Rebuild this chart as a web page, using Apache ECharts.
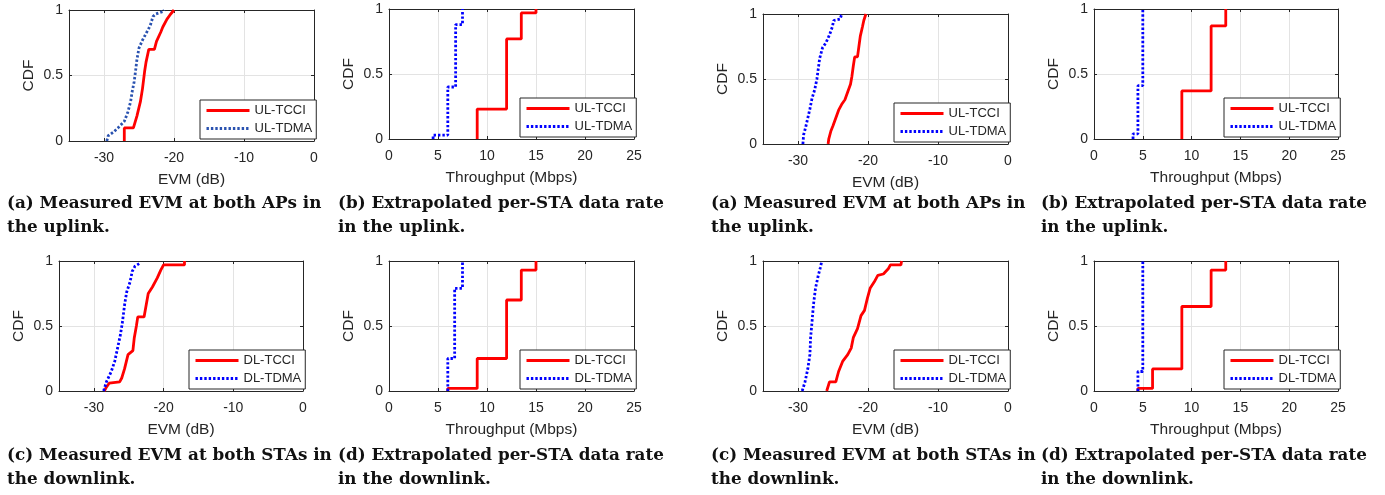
<!DOCTYPE html>
<html lang="en">

<head>
    <meta charset="UTF-8">
    <title>CDF of EVM and throughput</title>
</head>
<style>
    html, body { margin: 0; padding: 0; background: #fff; }
    #main { width: 1385px; height: 495px; }
</style>

<body>
    <div id="main"></div>
    <script src="https://cdn.jsdelivr.net/npm/echarts@6/dist/echarts.min.js"></script>

    <script>
        // EVM CDFs, [EVM dB, CDF]
        const ulEvmTcciA = [[-27.1, 0], [-27.1, 0.1], [-25.8, 0.1], [-25.3, 0.19], [-24.8, 0.3], [-24.5, 0.4], [-24.2, 0.53], [-24.0, 0.6], [-23.6, 0.7], [-22.8, 0.7], [-22.5, 0.76], [-21.9, 0.83], [-21.6, 0.87], [-21.0, 0.93], [-20.6, 0.96], [-20.0, 1]]
        const ulEvmTdmaA = [[-29.6, 0], [-29.4, 0.04], [-28.6, 0.07], [-28.0, 0.1], [-27.1, 0.15], [-26.6, 0.22], [-26.2, 0.3], [-26.0, 0.37], [-25.7, 0.45], [-25.5, 0.53], [-25.3, 0.62], [-25.0, 0.71], [-24.5, 0.77], [-24.0, 0.82], [-23.4, 0.88], [-23.0, 0.95], [-22.6, 0.97], [-21.5, 0.99], [-21.4, 1]]
        const dlEvmTcciA = [[-28.5, 0], [-28.2, 0.03], [-27.8, 0.06], [-26.3, 0.07], [-26.0, 0.1], [-25.6, 0.17], [-25.1, 0.28], [-24.4, 0.31], [-24.2, 0.41], [-23.9, 0.5], [-23.7, 0.57], [-22.8, 0.57], [-22.5, 0.66], [-22.2, 0.75], [-21.6, 0.8], [-20.9, 0.87], [-20.4, 0.93], [-20.0, 0.97], [-17.0, 0.97], [-17.0, 1]]
        const dlEvmTdmaA = [[-28.6, 0], [-28.2, 0.07], [-27.5, 0.15], [-27.0, 0.23], [-26.6, 0.33], [-26.2, 0.43], [-25.9, 0.53], [-25.6, 0.66], [-25.3, 0.76], [-24.8, 0.84], [-24.5, 0.92], [-24.1, 0.96], [-23.5, 0.98]]
        const ulEvmTcciB = [[-25.7, 0], [-25.6, 0.04], [-25.3, 0.1], [-25.0, 0.14], [-24.6, 0.2], [-24.2, 0.26], [-23.7, 0.31], [-23.3, 0.34], [-22.9, 0.4], [-22.5, 0.46], [-22.3, 0.52], [-22.1, 0.6], [-21.9, 0.67], [-21.5, 0.67], [-21.3, 0.75], [-21.1, 0.83], [-20.8, 0.9], [-20.6, 0.95], [-20.3, 1]]
        const ulEvmTdmaB = [[-29.3, 0], [-29.2, 0.07], [-28.9, 0.13], [-28.6, 0.2], [-28.3, 0.27], [-28.0, 0.35], [-27.6, 0.42], [-27.3, 0.5], [-27.1, 0.58], [-26.9, 0.66], [-26.5, 0.74], [-26.0, 0.78], [-25.5, 0.84], [-25.1, 0.9], [-24.9, 0.95], [-24.0, 0.96], [-23.8, 0.99], [-23.6, 1]]
        const dlEvmTcciB = [[-25.9, 0], [-25.5, 0.07], [-24.6, 0.07], [-24.2, 0.15], [-23.6, 0.23], [-22.9, 0.28], [-22.4, 0.33], [-22.1, 0.41], [-21.5, 0.48], [-21.0, 0.58], [-20.5, 0.62], [-20.1, 0.71], [-19.7, 0.79], [-19.1, 0.84], [-18.6, 0.89], [-17.8, 0.9], [-17.1, 0.94], [-16.8, 0.97], [-15.3, 0.97], [-15.2, 1]]
        const dlEvmTdmaB = [[-29.4, 0], [-29.0, 0.07], [-28.6, 0.17], [-28.3, 0.28], [-28.2, 0.41], [-28.0, 0.53], [-27.8, 0.66], [-27.5, 0.79], [-27.1, 0.89], [-26.8, 0.95], [-26.6, 1]]

        // throughput CDFs (staircase), [Mbps, CDF]
        const ulThrTcciA = [[9, 0], [9, 0.23], [12, 0.77], [13.5, 0.97], [15, 1]]
        const ulThrTdmaA = [[4.5, 0], [4.5, 0.03], [6, 0.4], [6.8, 0.88], [7.5, 1]]
        const dlThrTcciA = [[6, 0], [6, 0.02], [9, 0.25], [12, 0.7], [13.5, 0.93], [15, 1]]
        const dlThrTdmaA = [[6, 0], [6, 0.25], [6.7, 0.79], [7.5, 1]]
        const ulThrTcciB = [[9, 0], [9, 0.37], [12, 0.87], [13.5, 1]]
        const ulThrTdmaB = [[4, 0], [4, 0.04], [4.5, 0.41], [5, 1]]
        const dlThrTcciB = [[4.5, 0], [4.5, 0.02], [6, 0.17], [9, 0.65], [12, 0.93], [13.5, 1]]
        const dlThrTdmaB = [[4.5, 0], [4.5, 0.15], [5, 1]]

        const ulNames = ['UL-TCCI', 'UL-TDMA']
        const dlNames = ['DL-TCCI', 'DL-TDMA']

        const capA = ['(a) Measured EVM at both APs in', 'the uplink.']
        const capB = ['(b) Extrapolated per-STA data rate', 'in the uplink.']
        const capC = ['(c) Measured EVM at both STAs in', 'the downlink.']
        const capD = ['(d) Extrapolated per-STA data rate', 'in the downlink.']

        const axisColor = '#262626'
        const sans = 'Liberation Sans'

        const panels = [
            { box: [69, 10, 245, 131], evm: true, names: ulNames, tcci: ulEvmTcciA, tdma: ulEvmTdmaA, blue: '#2a52b0', cap: capA, capX: 7, capY: 204 },
            { box: [389, 9, 245, 130], evm: false, names: ulNames, tcci: ulThrTcciA, tdma: ulThrTdmaA, blue: '#0000ff', cap: capB, capX: 338, capY: 204 },
            { box: [763, 14, 245, 130], evm: true, names: ulNames, tcci: ulEvmTcciB, tdma: ulEvmTdmaB, blue: '#0000ff', cap: capA, capX: 711, capY: 204 },
            { box: [1094, 9, 244, 130], evm: false, names: ulNames, tcci: ulThrTcciB, tdma: ulThrTdmaB, blue: '#0000ff', cap: capB, capX: 1041, capY: 204 },
            { box: [59, 261, 244, 130], evm: true, names: dlNames, tcci: dlEvmTcciA, tdma: dlEvmTdmaA, blue: '#0000ff', cap: capC, capX: 7, capY: 456 },
            { box: [389, 261, 245, 130], evm: false, names: dlNames, tcci: dlThrTcciA, tdma: dlThrTdmaA, blue: '#0000ff', cap: capD, capX: 338, capY: 456 },
            { box: [763, 261, 245, 130], evm: true, names: dlNames, tcci: dlEvmTcciB, tdma: dlEvmTdmaB, blue: '#0000ff', cap: capC, capX: 711, capY: 456 },
            { box: [1094, 261, 244, 130], evm: false, names: dlNames, tcci: dlThrTcciB, tdma: dlThrTdmaB, blue: '#0000ff', cap: capD, capX: 1041, capY: 456 },
        ]

        const grid = [], xAxis = [], yAxis = [], series = [], legend = [], graphic = []

        panels.forEach((p, i) => {
            const [left, top, width, height] = p.box
            grid.push({ left, top, width, height, show: false })

            const xr = p.evm ? { min: -35, max: 0, splitNumber: 4 } : { min: 0, max: 25, interval: 5 }
            const tick = { show: true, inside: true, length: 3, lineStyle: { color: axisColor } }
            const line = { show: true, onZero: false, lineStyle: { color: axisColor, width: 1 } }
            const labelStyle = { fontFamily: sans, fontSize: 14, color: axisColor }

            xAxis.push({
                type: 'value', gridIndex: i, position: 'bottom', ...xr,
                name: p.evm ? 'EVM (dB)' : 'Throughput (Mbps)',
                nameLocation: 'middle', nameGap: 31,
                nameTextStyle: { fontFamily: sans, fontSize: 15.5, color: axisColor },
                axisLine: line, axisTick: tick,
                axisLabel: { ...labelStyle, margin: 10, showMinLabel: !p.evm },
                splitLine: { show: true, lineStyle: { color: '#e3e3e3', width: 1 } }
            })
            xAxis.push({
                type: 'value', gridIndex: i, position: 'top', ...xr,
                axisLine: line, axisTick: tick, axisLabel: { show: false }, splitLine: { show: false }
            })
            yAxis.push({
                type: 'value', gridIndex: i, position: 'left', min: 0, max: 1, interval: 0.5,
                name: 'CDF', nameLocation: 'middle', nameGap: 32,
                nameTextStyle: { fontFamily: sans, fontSize: 15.5, color: axisColor },
                axisLine: line, axisTick: tick,
                axisLabel: { ...labelStyle, margin: 6 },
                splitLine: { show: true, lineStyle: { color: '#e3e3e3', width: 1 } }
            })
            yAxis.push({
                type: 'value', gridIndex: i, position: 'right', min: 0, max: 1, interval: 0.5,
                axisLine: line, axisTick: tick, axisLabel: { show: false }, splitLine: { show: false }
            })

            const nTcci = p.names[0] + '#' + i
            const nTdma = p.names[1] + '#' + i
            series.push({
                name: nTcci, type: 'line', xAxisIndex: 2 * i, yAxisIndex: 2 * i,
                data: p.tcci, step: p.evm ? false : 'end',
                symbol: 'none', showSymbol: false, color: '#ff0000',
                lineStyle: { color: '#ff0000', width: 2.8 }
            })
            series.push({
                name: nTdma, type: 'line', xAxisIndex: 2 * i, yAxisIndex: 2 * i,
                data: p.tdma, step: p.evm ? false : 'end',
                symbol: 'none', showSymbol: false, color: p.blue,
                lineStyle: { color: p.blue, width: 2.8, type: [2.4, 2] }
            })

            legend.push({
                data: [nTcci, nTdma],
                formatter: n => n.split('#')[0],
                orient: 'vertical',
                left: left + width - 114, top: top + height - 41,
                itemWidth: 43, itemHeight: 12, itemGap: 5,
                padding: [4, 4, 4, 5],
                borderColor: axisColor, borderWidth: 1, borderRadius: 0,
                backgroundColor: '#fff',
                selectedMode: false,
                itemStyle: { opacity: 0 },
                lineStyle: { width: 3 },
                textStyle: { fontFamily: sans, fontSize: 13, color: axisColor }
            })

            p.cap.forEach((t, k) => {
                graphic.push({
                    type: 'text', x: p.capX, y: p.capY + k * 23.5,
                    style: {
                        text: t, fill: '#111',
                        font: 'bold 16.8px "DejaVu Serif"',
                        verticalAlign: 'middle', align: 'left'
                    }
                })
            })
        })

        const chart = echarts.init(document.getElementById('main'))
        chart.setOption({
            animation: false,
            grid, xAxis, yAxis, series, legend, graphic
        })
    </script>
</body>

</html>
